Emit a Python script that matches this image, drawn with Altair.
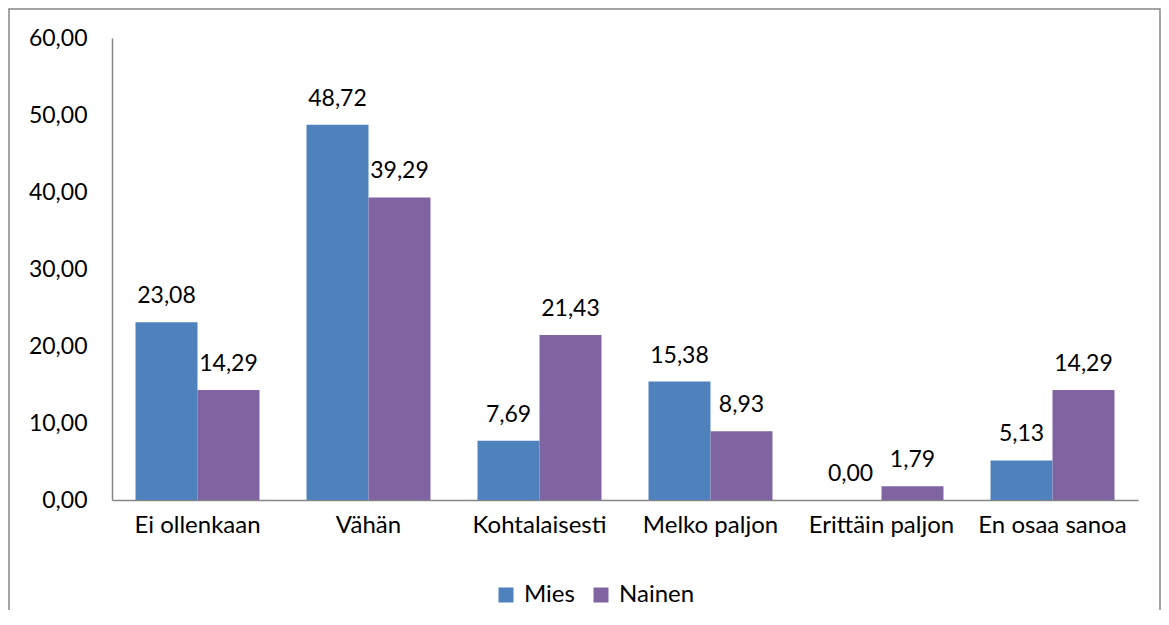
import altair as alt
import pandas as pd

categories = ["Ei ollenkaan", "Vähän", "Kohtalaisesti", "Melko paljon", "Erittäin paljon", "En osaa sanoa"]
mies = [23.08, 48.72, 7.69, 15.38, 0.00, 5.13]
nainen = [14.29, 39.29, 21.43, 8.93, 1.79, 14.29]
series = ["Mies", "Nainen"]
colors = ["#4F81BD", "#8064A2"]
y_ticks = [0, 10, 20, 30, 40, 50, 60]

rows = []
for c, m, n in zip(categories, mies, nainen):
    rows.append({"cat": c, "series": "Mies", "value": m})
    rows.append({"cat": c, "series": "Nainen", "value": n})
df = pd.DataFrame(rows)
df["label"] = df["value"].map(lambda v: f"{v:.2f}".replace(".", ","))

FONT = "Lato"
FS_NUM = 23
FS_TXT = 24
GRAY = "#868686"

x_enc = alt.X("cat:N", sort=categories, title=None,
              scale=alt.Scale(paddingInner=0.275, paddingOuter=0.1375),
              axis=alt.Axis(labelAngle=0, ticks=False, domainColor=GRAY, domainWidth=1.5,
                            labelFont=FONT, labelFontSize=FS_TXT, labelColor="#000000",
                            labelPadding=13))
xo_enc = alt.XOffset("series:N", sort=series, scale=alt.Scale(paddingInner=0, paddingOuter=0))
y_enc = alt.Y("value:Q", title=None,
              scale=alt.Scale(domain=[0, 60], nice=False),
              axis=alt.Axis(values=y_ticks, grid=False, ticks=False, domainColor=GRAY, domainWidth=1.5,
                            labelFont=FONT, labelFontSize=FS_NUM, labelColor="#000000", labelPadding=25,
                            labelExpr="replace(format(datum.value, '.2f'), '.', ',')"))

base = alt.Chart(df)

bars = base.mark_bar().encode(
    x=x_enc, xOffset=xo_enc, y=y_enc,
    color=alt.Color("series:N", sort=series, title=None,
                    scale=alt.Scale(domain=series, range=colors),
                    legend=alt.Legend(orient="none", legendX=382, legendY=545, direction="horizontal",
                                      symbolType="square", symbolSize=225, symbolStrokeWidth=0,
                                      labelFont=FONT, labelFontSize=FS_TXT, labelColor="#000000",
                                      labelOffset=6, columnPadding=14)),
)

labels = base.mark_text(font=FONT, fontSize=FS_NUM, color="#000000", baseline="alphabetic", dy=-19).encode(
    x=alt.X("cat:N", sort=categories), xOffset=alt.XOffset("series:N", sort=series), y="value:Q",
    text="label:N",
)

border = alt.Chart(pd.DataFrame({"a": [0]})).mark_rect(
    fill=None, stroke=GRAY, strokeWidth=1.5
).encode(x=alt.value(-103), x2=alt.value(1048), y=alt.value(-29), y2=alt.value(620))

chart = alt.layer(border, bars, labels).properties(
    width=1026, height=462,
    autosize=alt.AutoSizeParams(type="none"),
    padding={"left": 104, "top": 30, "right": 23, "bottom": 110},
    background="#ffffff",
).configure_view(stroke=None)

chart.save("out.html", embed_options={"renderer": "svg", "actions": False})
